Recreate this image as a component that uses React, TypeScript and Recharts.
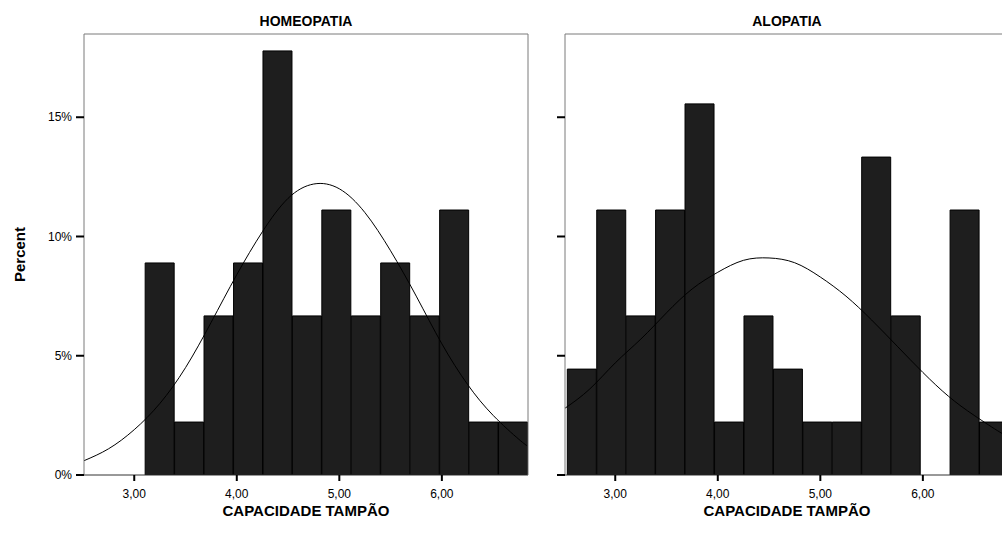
import {
  ComposedChart,
  XAxis,
  YAxis,
  Bar,
  Line
} from "recharts";

// histogram bin midpoints (CAPACIDADE TAMPÃO)
const binMids = [2.676, 2.963, 3.25, 3.537, 3.824, 4.112, 4.399, 4.686, 4.973, 5.26, 5.547, 5.835, 6.122, 6.409, 6.696];

// percent per bin
const homeoPct = [null, null, 8.89, 2.22, 6.67, 8.89, 17.78, 6.67, 11.11, 6.67, 8.89, 6.67, 11.11, 2.22, 2.22];
const aloPct = [4.44, 11.11, 6.67, 11.11, 15.56, 2.22, 6.67, 4.44, 2.22, 2.22, 13.33, 6.67, 0, 11.11, 2.22];

// normal curve
const curveX = [2.51, 2.75, 3.0, 3.25, 3.5, 3.75, 4.0, 4.25, 4.5, 4.75, 5.0, 5.25, 5.5, 5.75, 6.0, 6.25, 6.5, 6.75, 6.84];
const homeoCurve = [0.6, 1.1, 1.9, 3.0, 4.5, 6.4, 8.4, 10.2, 11.6, 12.2, 12.0, 11.0, 9.4, 7.5, 5.5, 3.8, 2.5, 1.5, 1.2];
const aloCurve = [2.8, 3.6, 4.7, 5.7, 6.8, 7.8, 8.5, 9.0, 9.1, 8.9, 8.3, 7.5, 6.5, 5.4, 4.3, 3.3, 2.5, 1.8, 1.6];

const xTicks = [3, 4, 5, 6];
const yTicks = [0, 5, 10, 15];

const X_DOMAIN: [number, number] = [2.51, 6.84];
const Y_DOMAIN: [number, number] = [0, 18.49];
const FONT = "'Liberation Sans', Arial, sans-serif";
const FRAME = "#7a7a7a";

type PanelProps = {
  title: string;
  pct: (number | null)[];
  curve: number[];
  width: number;
  margin: { top: number; right: number; bottom: number; left: number };
  yWidth: number;
  showYLabels: boolean;
};

function Panel({ title, pct, curve, width, margin, yWidth, showYLabels }: PanelProps) {
  const bins = binMids.map((x, i) => ({ x, pct: pct[i] }));
  const line = curveX.map((x, i) => ({ x, y: curve[i] }));

  return (
    <ComposedChart
      width={width}
      height={551}
      data={bins}
      margin={margin}
      barCategoryGap={0}
      barGap={0}
    >
      <XAxis
        xAxisId="bins"
        type="number"
        dataKey="x"
        domain={X_DOMAIN}
        allowDataOverflow
        ticks={xTicks}
        tickFormatter={(v: number) => v.toFixed(2).replace(".", ",")}
        tickSize={6}
        tickMargin={8}
        tickLine={{ stroke: "#000", strokeWidth: 2 }}
        axisLine={{ stroke: "#333" }}
        tick={{ fill: "#000", fontSize: 12, fontFamily: FONT }}
        height={44}
        label={{
          value: "CAPACIDADE TAMPÃO",
          position: "insideBottom",
          offset: 3,
          style: { fill: "#000", fontSize: 15, fontWeight: "bold", fontFamily: FONT }
        }}
      />
      {/* top frame line + panel title */}
      <XAxis
        xAxisId="curve"
        type="number"
        dataKey="x"
        orientation="top"
        domain={X_DOMAIN}
        allowDataOverflow
        height={1}
        tick={false}
        tickLine={false}
        axisLine={{ stroke: FRAME }}
        label={{
          value: title,
          position: "top",
          offset: 7,
          style: { fill: "#000", fontSize: 14, fontWeight: "bold", fontFamily: FONT }
        }}
      />
      <YAxis
        yAxisId="pct"
        type="number"
        domain={Y_DOMAIN}
        allowDataOverflow
        ticks={yTicks}
        tickFormatter={(v: number) => (showYLabels ? `${v}%` : "")}
        width={yWidth}
        tickSize={8}
        tickMargin={4}
        tickLine={{ stroke: "#000", strokeWidth: 2 }}
        axisLine={{ stroke: FRAME }}
        tick={{ fill: "#000", fontSize: 12, fontFamily: FONT }}
        label={
          showYLabels
            ? {
                value: "Percent",
                angle: -90,
                position: "insideLeft",
                offset: 10,
                style: { textAnchor: "middle", fill: "#000", fontSize: 15, fontWeight: "bold", fontFamily: FONT }
              }
            : undefined
        }
      />
      {/* right frame line */}
      <YAxis
        yAxisId="frame"
        orientation="right"
        domain={Y_DOMAIN}
        width={1}
        tick={false}
        tickLine={false}
        axisLine={{ stroke: FRAME }}
      />
      <Bar
        xAxisId="bins"
        yAxisId="pct"
        dataKey="pct"
        fill="#1e1e1e"
        stroke="#000"
        strokeWidth={1}
        isAnimationActive={false}
      />
      <Line
        xAxisId="curve"
        yAxisId="pct"
        data={line}
        dataKey="y"
        type="natural"
        stroke="#000"
        strokeWidth={1}
        dot={false}
        activeDot={false}
        isAnimationActive={false}
      />
    </ComposedChart>
  );
}

export default function App() {
  return (
    <div
      style={{
        position: "absolute",
        left: 0,
        top: 0,
        width: 1002,
        height: 551,
        overflow: "hidden",
        background: "#fff"
      }}
    >
      <div style={{ position: "absolute", left: 0, top: 0 }}>
        <Panel
          title="HOMEOPATIA"
          pct={homeoPct}
          curve={homeoCurve}
          width={540}
          margin={{ top: 33, right: 11, bottom: 32, left: 10 }}
          yWidth={74}
          showYLabels
        />
      </div>
      <div style={{ position: "absolute", left: 540, top: 0 }}>
        <Panel
          title="ALOPATIA"
          pct={aloPct}
          curve={aloCurve}
          width={480}
          margin={{ top: 33, right: 10, bottom: 32, left: 0 }}
          yWidth={25}
          showYLabels={false}
        />
      </div>
    </div>
  );
}
